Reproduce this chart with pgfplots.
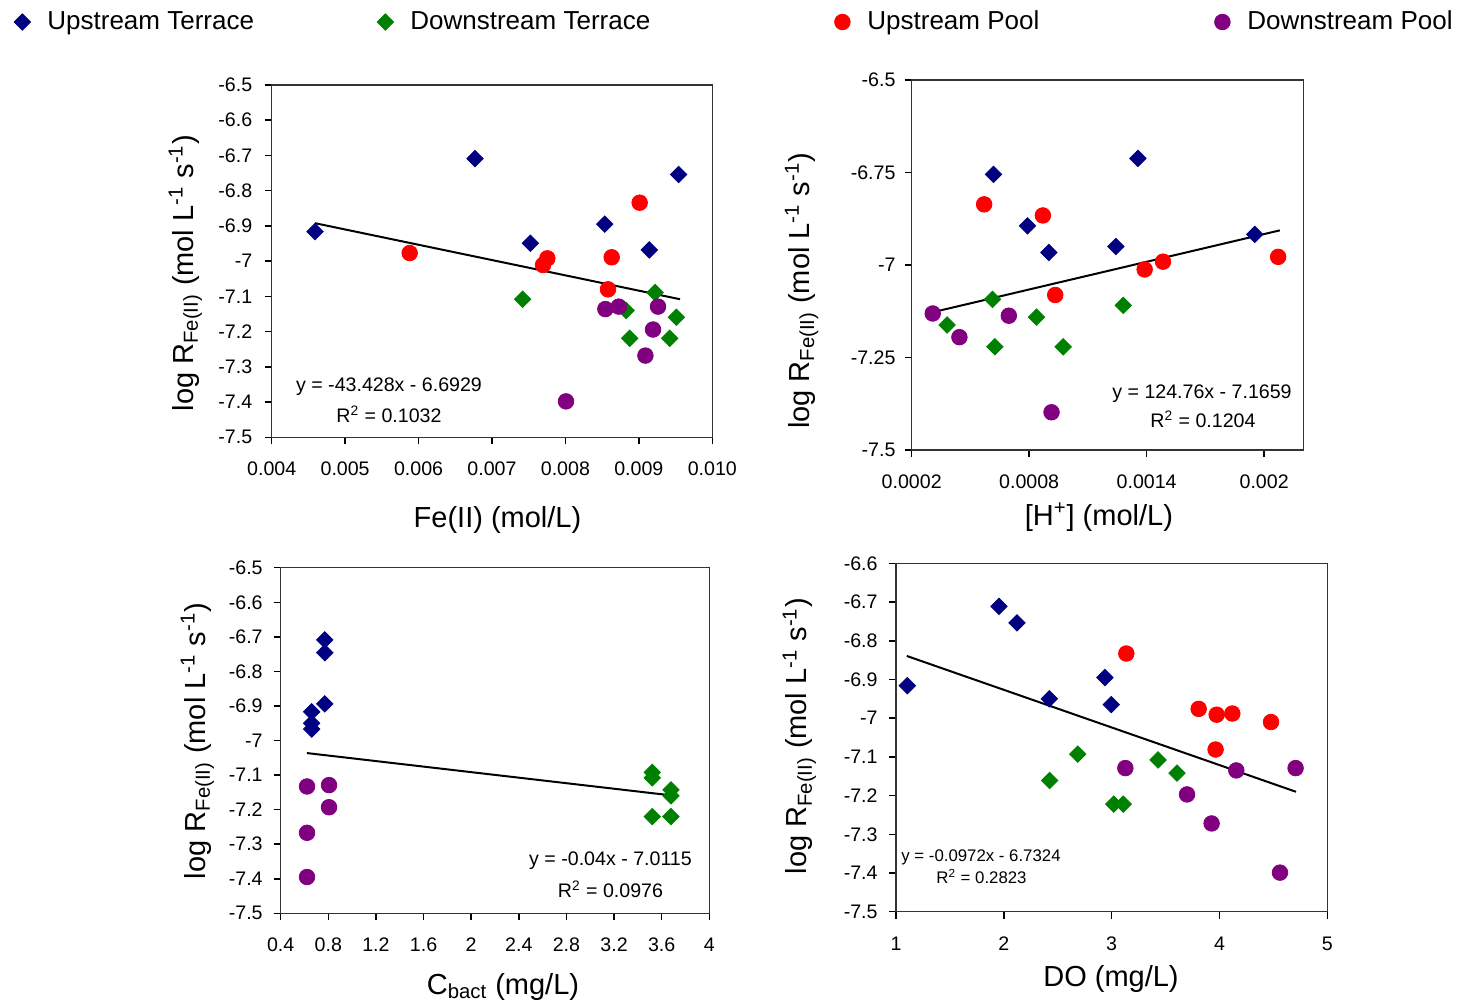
\documentclass[border=0pt]{standalone}
\usepackage{fontspec}
\setmainfont{Liberation Sans}
\usepackage{pgfplots}
\pgfplotsset{compat=1.18}
\definecolor{cUT}{RGB}{0,0,128}
\definecolor{cDT}{RGB}{0,128,0}
\definecolor{cUP}{RGB}{255,0,0}
\definecolor{cDP}{RGB}{128,0,128}
\pgfplotsset{
  panel/.style={scale only axis, anchor=south west,
    axis line style={line width=0.75pt, black!80},
    tick style={black, line width=0.75pt}, major tick length=3.5pt,
    tick align=outside, tick pos=left,
    /pgf/number format/assume math mode=true,
    tick label style={font=\fontsize{9.8}{11}\selectfont},
    label style={font=\fontsize{14.5}{17}\selectfont},
    xticklabel style={yshift=-5.4pt},
    clip=false, scaled ticks=false},
  ut/.style={only marks, mark=square*, mark size=2.9pt, color=cUT, mark options={rotate=45, fill=cUT, draw=cUT}},
  dt/.style={only marks, mark=square*, mark size=2.9pt, color=cDT, mark options={rotate=45, fill=cDT, draw=cDT}},
  up/.style={only marks, mark=*, mark size=3.9pt, color=cUP, mark options={fill=cUP, draw=cUP}},
  dp/.style={only marks, mark=*, mark size=3.9pt, color=cDP, mark options={fill=cDP, draw=cDP}},
  trend/.style={black, line width=1pt, no marks, forget plot},
}
\begin{document}
\begin{tikzpicture}
\path[use as bounding box] (0,0) rectangle (732pt,-501.5pt);

% Panel 1
\begin{axis}[panel, at={(135.85pt,-218.65pt)}, width=220.3pt, height=176.15pt,
  xmin=0.004, xmax=0.010, ymin=-7.5, ymax=-6.5,
  xtick={0.004,0.005,0.006,0.007,0.008,0.009,0.010},
  xticklabels={0.004,0.005,0.006,0.007,0.008,0.009,0.010},
  ytick={-7.5,-7.4,-7.3,-7.2,-7.1,-7,-6.9,-6.8,-6.7,-6.6,-6.5},
  yticklabels={-7.5,-7.4,-7.3,-7.2,-7.1,-7,-6.9,-6.8,-6.7,-6.6,-6.5},
  yticklabel style={xshift=-2.7pt},
  xlabel={Fe(II) (mol/L)},
  xlabel style={at={(axis description cs:0.5125,-0.2546)}, anchor=base},
  ylabel={log R\textsubscript{Fe(II)} (mol L\textsuperscript{-1} s\textsuperscript{-1})},
  ylabel style={at={(axis description cs:-0.1786,0.466)}, anchor=base},
  legend columns=4,
  legend image code/.code={\path[draw=none,fill=none] (-5pt,-5pt) rectangle (5pt,5pt); \draw[#1] plot coordinates {(0pt,0pt)};},
  legend style={at={(axis description cs:-0.5894,1.1788)}, anchor=west, draw=none, fill=none,
    inner sep=0pt, font=\fontsize{13}{15}\selectfont, nodes={inner sep=0pt},
    /tikz/every odd column/.append style={column sep=7.5pt},
    /tikz/every even column/.append style={column sep=0pt}},
]
\addplot[ut] coordinates {(0.00459,-6.916) (0.006769,-6.709) (0.007522,-6.949) (0.008535,-6.895) (0.009143,-6.968) (0.009542,-6.754)};
\addlegendentry{\makebox[164pt][l]{Upstream Terrace}}
\addplot[dt] coordinates {(0.007418,-7.108) (0.008825,-7.140) (0.009220,-7.089) (0.009511,-7.159) (0.008875,-7.219) (0.009420,-7.219)};
\addlegendentry{\makebox[211pt][l]{Downstream Terrace}}
\addplot[up] coordinates {(0.005879,-6.977) (0.007754,-6.992) (0.007695,-7.011) (0.009011,-6.834) (0.008630,-6.989) (0.008580,-7.080)};
\addlegendentry{\makebox[172.5pt][l]{Upstream Pool}}
\addplot[dp] coordinates {(0.008544,-7.136) (0.008726,-7.129) (0.009261,-7.129) (0.009193,-7.194) (0.009089,-7.268) (0.008008,-7.398)};
\addlegendentry{Downstream Pool}
\addplot[trend] coordinates {(0.00459,-6.8922) (0.009561,-7.1081)};
\end{axis}

% Panel 2
\begin{axis}[panel, at={(455.85pt,-225pt)}, width=195.8pt, height=185pt,
  xmin=0.0002, xmax=0.0022, ymin=-7.5, ymax=-6.5,
  xtick={0.0002,0.0008,0.0014,0.002},
  xticklabels={0.0002,0.0008,0.0014,0.002},
  ytick={-7.5,-7.25,-7,-6.75,-6.5},
  yticklabels={-7.5,-7.25,-7,-6.75,-6.5},
  yticklabel style={xshift=-1.1pt},
  xlabel={[H\textsuperscript{+}] (mol/L)},
  xlabel style={at={(axis description cs:0.478,-0.2027)}, anchor=base},
  ylabel={log R\textsubscript{Fe(II)} (mol L\textsuperscript{-1} s\textsuperscript{-1})},
  ylabel style={at={(axis description cs:-0.2615,0.43)}, anchor=base},
]
\addplot[ut] coordinates {(0.0006176,-6.755) (0.0013556,-6.712) (0.0007914,-6.894) (0.0009005,-6.966) (0.0012431,-6.950) (0.0019522,-6.917)};
\addplot[dt] coordinates {(0.0006125,-7.093) (0.0003807,-7.162) (0.0006244,-7.221) (0.0008375,-7.141) (0.0009738,-7.221) (0.0012806,-7.109)};
\addplot[up] coordinates {(0.0005699,-6.836) (0.0008699,-6.866) (0.0009329,-7.081) (0.0013897,-7.012) (0.0014835,-6.991) (0.0020715,-6.978)};
\addplot[dp] coordinates {(0.0003074,-7.131) (0.0004437,-7.195) (0.000696,-7.137) (0.0009142,-7.398)};
\addplot[trend] coordinates {(0.0003074,-7.1276) (0.00208,-6.9064)};
\end{axis}

% Panel 3
\begin{axis}[panel, at={(140.35pt,-456.65pt)}, width=214.3pt, height=172.8pt,
  xmin=0.4, xmax=4, ymin=-7.5, ymax=-6.5,
  xtick={0.4,0.8,1.2,1.6,2,2.4,2.8,3.2,3.6,4},
  xticklabels={0.4,0.8,1.2,1.6,2,2.4,2.8,3.2,3.6,4},
  ytick={-7.5,-7.4,-7.3,-7.2,-7.1,-7,-6.9,-6.8,-6.7,-6.6,-6.5},
  yticklabels={-7.5,-7.4,-7.3,-7.2,-7.1,-7,-6.9,-6.8,-6.7,-6.6,-6.5},
  yticklabel style={xshift=-2pt},
  xlabel={C\textsubscript{bact} (mg/L)},
  xlabel style={at={(axis description cs:0.5187,-0.2335)}, anchor=base},
  ylabel={log R\textsubscript{Fe(II)} (mol L\textsuperscript{-1} s\textsuperscript{-1})},
  ylabel style={at={(axis description cs:-0.1766,0.4986)}, anchor=base},
]
\addplot[ut] coordinates {(0.77,-6.709) (0.77,-6.746) (0.77,-6.894) (0.66,-6.917) (0.66,-6.950) (0.66,-6.967)};
\addplot[dt] coordinates {(3.521,-7.092) (3.521,-7.108) (3.678,-7.143) (3.678,-7.160) (3.521,-7.220) (3.678,-7.220)};
\addplot[dp] coordinates {(0.621,-7.133) (0.806,-7.129) (0.806,-7.193) (0.621,-7.267) (0.621,-7.395)};
\addplot[trend] coordinates {(0.62,-7.0363) (3.68,-7.1587)};
\end{axis}

% Panel 4
\begin{axis}[panel, at={(448pt,-455.85pt)}, width=215.65pt, height=174.2pt,
  xmin=1, xmax=5, ymin=-7.5, ymax=-6.6,
  xtick={1,2,3,4,5},
  xticklabels={1,2,3,4,5},
  ytick={-7.5,-7.4,-7.3,-7.2,-7.1,-7,-6.9,-6.8,-6.7,-6.6},
  yticklabels={-7.5,-7.4,-7.3,-7.2,-7.1,-7,-6.9,-6.8,-6.7,-6.6},
  yticklabel style={xshift=-2.2pt},
  xlabel={DO (mg/L)},
  xlabel style={at={(axis description cs:0.4985,-0.216)}, anchor=base},
  ylabel={log R\textsubscript{Fe(II)} (mol L\textsuperscript{-1} s\textsuperscript{-1})},
  ylabel style={at={(axis description cs:-0.2064,0.504)}, anchor=base},
]
\addplot[ut] coordinates {(1.105,-6.916) (1.955,-6.711) (2.122,-6.754) (2.422,-6.950) (2.938,-6.895) (2.997,-6.965)};
\addplot[dt] coordinates {(2.425,-7.161) (2.685,-7.093) (3.019,-7.222) (3.108,-7.222) (3.430,-7.108) (3.606,-7.142)};
\addplot[up] coordinates {(3.136,-6.833) (3.807,-6.976) (3.974,-6.991) (4.119,-6.988) (4.478,-7.010) (3.964,-7.081)};
\addplot[dp] coordinates {(3.127,-7.129) (3.699,-7.197) (3.927,-7.272) (4.156,-7.135) (4.706,-7.129) (4.561,-7.399)};
\addplot[trend] coordinates {(1.10,-6.8393) (4.71,-7.1902)};
\end{axis}

\begin{scope}[x=0.5pt, y=-0.5pt]
\node[anchor=base, font=\fontsize{9.8}{11}\selectfont] at (389,391.7) {y = -43.428x - 6.6929};
\node[anchor=base, font=\fontsize{9.8}{11}\selectfont] at (389,422.7) {R\textsuperscript{2} = 0.1032};
\node[anchor=base, font=\fontsize{9.8}{11}\selectfont] at (1202,398.3) {y = 124.76x - 7.1659};
\node[anchor=base, font=\fontsize{9.8}{11}\selectfont] at (1203,427.3) {R\textsuperscript{2} = 0.1204};
\node[anchor=base, font=\fontsize{9.8}{11}\selectfont] at (610.5,865) {y = -0.04x - 7.0115};
\node[anchor=base, font=\fontsize{9.8}{11}\selectfont] at (610.5,897.3) {R\textsuperscript{2} = 0.0976};
\node[anchor=base, font=\fontsize{8.4}{10}\selectfont] at (981,861.7) {y = -0.0972x - 6.7324};
\node[anchor=base, font=\fontsize{8.4}{10}\selectfont] at (981.5,883.3) {R\textsuperscript{2} = 0.2823};
\end{scope}
\end{tikzpicture}
\end{document}
